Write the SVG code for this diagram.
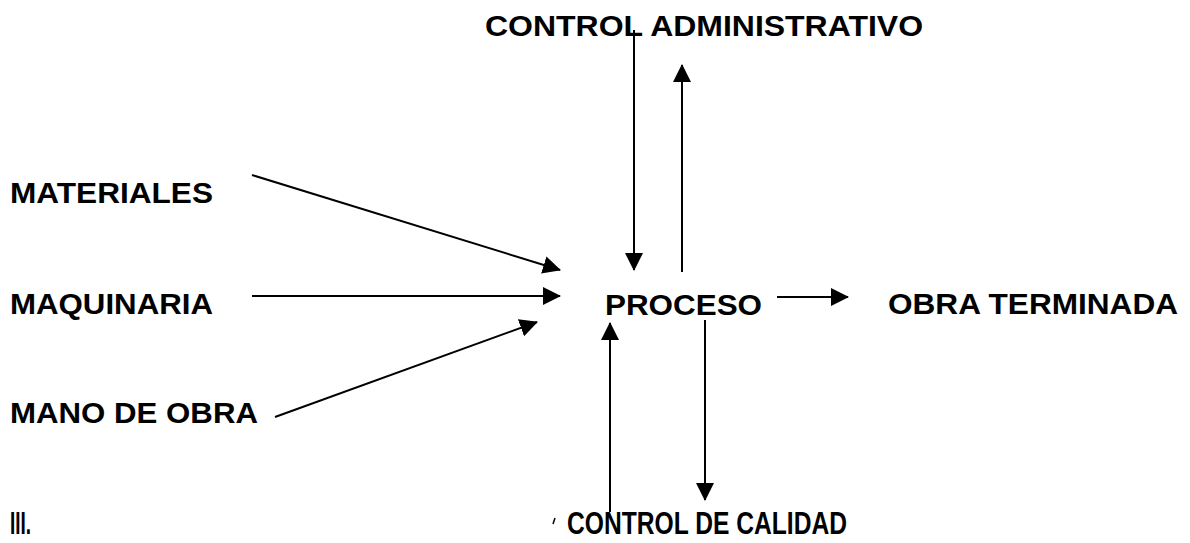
<svg xmlns="http://www.w3.org/2000/svg" width="1190" height="543" viewBox="0 0 1190 543">
  <style>
    .lbl { font-family: "Liberation Sans", Arial, sans-serif; font-weight: bold; font-size: 29px; fill: #000; }
    .narrow { font-size: 31px; }
    .conn { stroke: #000; stroke-width: 2; fill: none; marker-end: url(#head); }
  </style>
  <defs>
    <marker id="head" viewBox="0 0 18 18" refX="17" refY="9" markerWidth="18" markerHeight="18" markerUnits="userSpaceOnUse" orient="auto">
      <path d="M0,0 L18,9 L0,18 Z" fill="#000"/>
    </marker>
  </defs>
  <rect width="1190" height="543" fill="#fff"/>

  <!-- connectors -->
  <g id="connectors">
    <line class="conn" x1="252" y1="175" x2="560" y2="270"/>
    <line class="conn" x1="252" y1="296" x2="560" y2="296"/>
    <line class="conn" x1="275" y1="417" x2="537" y2="322"/>
    <line class="conn" x1="634" y1="30" x2="634" y2="270"/>
    <line class="conn" x1="682" y1="272" x2="682" y2="65"/>
    <line class="conn" x1="777" y1="297" x2="848" y2="297"/>
    <line class="conn" x1="610" y1="512" x2="610" y2="323"/>
    <line class="conn" x1="705" y1="320" x2="705" y2="500"/>
  </g>

  <!-- nodes -->
  <g id="materiales"><text class="lbl" x="10" y="203" textLength="203" lengthAdjust="spacingAndGlyphs">MATERIALES</text></g>
  <g id="maquinaria"><text class="lbl" x="10" y="314" textLength="203" lengthAdjust="spacingAndGlyphs">MAQUINARIA</text></g>
  <g id="mano-de-obra"><text class="lbl" x="10" y="423" textLength="248" lengthAdjust="spacingAndGlyphs">MANO DE OBRA</text></g>
  <g id="proceso"><text class="lbl" x="605" y="315" textLength="157" lengthAdjust="spacingAndGlyphs">PROCESO</text></g>
  <g id="obra-terminada"><text class="lbl" x="888" y="314" textLength="290" lengthAdjust="spacingAndGlyphs">OBRA TERMINADA</text></g>
  <g id="control-administrativo"><text class="lbl" x="485" y="36" textLength="438" lengthAdjust="spacingAndGlyphs">CONTROL ADMINISTRATIVO</text></g>
  <g id="control-de-calidad"><text class="lbl narrow" x="567" y="534" textLength="280" lengthAdjust="spacingAndGlyphs">CONTROL DE CALIDAD</text></g>
  <g id="section-number"><text class="lbl narrow" x="10" y="534" textLength="21" lengthAdjust="spacingAndGlyphs">III.</text></g>
  <!-- small stray tick before the lower label -->
  <line x1="555" y1="518" x2="553" y2="524" stroke="#000" stroke-width="1.5"/>
</svg>
